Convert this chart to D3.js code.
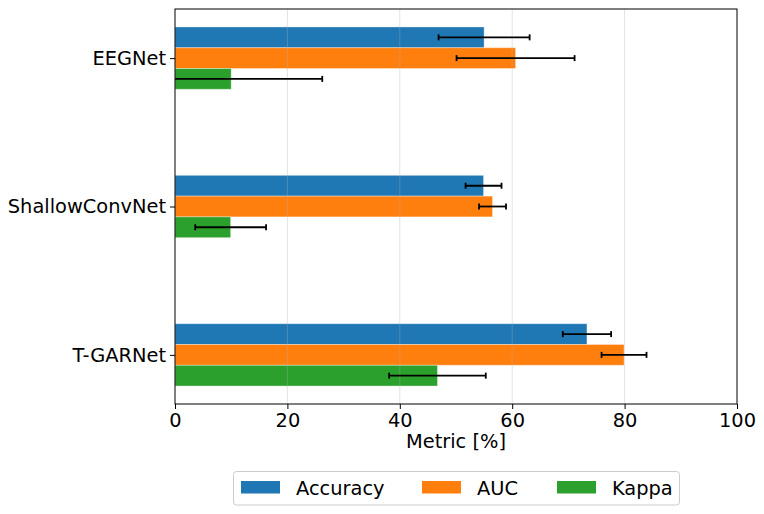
<!DOCTYPE html>
<html>
<head>
<meta charset="utf-8">
<script src="https://cdn.jsdelivr.net/npm/d3@7"></script>
<style>
html,body{margin:0;padding:0;background:#fff;}
svg{display:block;font-family:"DejaVu Sans",sans-serif;}
</style>
</head>
<body>
<svg id="chart" width="764" height="514"></svg>
<script>
// Data (bottom-to-top order as in the plot index)
const models = ["T-GARNet", "ShallowConvNet", "EEGNet"];
const metrics = ["Accuracy", "AUC", "Kappa"];
const colors = ["#1f77b4", "#ff7f0e", "#2ca02c"];
const accuracy = [73.3, 54.9, 55.0];
const accuracyErr = [4.3, 3.2, 8.1];
const auc = [79.9, 56.5, 60.6];
const aucErr = [4.0, 2.4, 10.5];
const kappa = [46.7, 9.9, 10.0];
const kappaErr = [8.6, 6.3, 16.2];
const xTicks = [0, 20, 40, 60, 80, 100];

const values = [accuracy, auc, kappa];
const errors = [accuracyErr, aucErr, kappaErr];
const FS = "19.4px";

const svg = d3.select("#chart");
const L = 175, R = 737, T = 9, B = 404;
const w = 0.14;            // bar height in category units
const offsets = [w, 0, -w]; // Accuracy on top, Kappa at bottom

const x = d3.scaleLinear().domain([0, 100]).range([L, R]);
const ext = [-1.5 * w, 2 + 1.5 * w];
const pad = (ext[1] - ext[0]) * 0.05;
const y = d3.scaleLinear().domain([ext[0] - pad, ext[1] + pad]).range([B, T]);
const bh = y(0) - y(w);

const plot = svg.append("g");
const defs = svg.append("defs");
defs.append("clipPath").attr("id", "clip").append("rect")
  .attr("x", L).attr("y", T).attr("width", R - L).attr("height", B - T);

// Bars
metrics.forEach((m, j) => {
  plot.append("g").selectAll("rect").data(models).join("rect")
    .attr("x", x(0))
    .attr("y", (d, i) => y(i + offsets[j] + w / 2))
    .attr("width", (d, i) => x(values[j][i]) - x(0))
    .attr("height", bh)
    .attr("fill", colors[j])
    .attr("stroke", "#ffffff")
    .attr("stroke-opacity", 0.35)
    .attr("stroke-width", 1);
});

// Grid (drawn above bars, translucent)
plot.append("g").selectAll("line").data(xTicks.slice(1, -1)).join("line")
  .attr("x1", d => x(d)).attr("x2", d => x(d))
  .attr("y1", T).attr("y2", B)
  .attr("stroke", "#b0b0b0").attr("stroke-opacity", 0.35).attr("stroke-width", 1);

// Error bars
const eg = plot.append("g").attr("clip-path", "url(#clip)");
metrics.forEach((m, j) => {
  models.forEach((d, i) => {
    const cy = y(i + offsets[j]);
    const lo = x(values[j][i] - errors[j][i]);
    const hi = x(values[j][i] + errors[j][i]);
    eg.append("line").attr("x1", lo).attr("x2", hi).attr("y1", cy).attr("y2", cy)
      .attr("stroke", "#000").attr("stroke-width", 1.8);
    [lo, hi].forEach(px => {
      eg.append("line").attr("x1", px).attr("x2", px).attr("y1", cy - 3).attr("y2", cy + 3)
        .attr("stroke", "#000").attr("stroke-width", 1.8);
    });
  });
});

// Spines
svg.append("rect").attr("x", L).attr("y", T).attr("width", R - L).attr("height", B - T)
  .attr("fill", "none").attr("stroke", "#000").attr("stroke-width", 1);

// X axis
const xAxis = svg.append("g").attr("transform", `translate(0,${B})`)
  .call(d3.axisBottom(x).tickValues(xTicks).tickSize(5).tickPadding(4).tickFormat(d3.format("d")));
xAxis.select(".domain").remove();
xAxis.attr("font-size", FS).attr("font-family", "DejaVu Sans");
xAxis.selectAll("text").attr("fill", "#000");
xAxis.selectAll("line").attr("stroke", "#000");

// Y axis
const yAxis = svg.append("g").attr("transform", `translate(${L},0)`)
  .call(d3.axisLeft(y).tickValues([0, 1, 2]).tickSize(5).tickPadding(4).tickFormat(d => models[d]));
yAxis.select(".domain").remove();
yAxis.attr("font-size", FS).attr("font-family", "DejaVu Sans");
yAxis.selectAll("text").attr("fill", "#000");
yAxis.selectAll("line").attr("stroke", "#000");

// X label
svg.append("text").attr("x", (L + R) / 2).attr("y", 448)
  .attr("text-anchor", "middle").attr("font-size", FS).attr("fill", "#000")
  .text("Metric [%]");

// Legend
const lg = svg.append("g");
lg.append("rect").attr("x", 233.5).attr("y", 471.5).attr("width", 446).attr("height", 33.5)
  .attr("rx", 3).attr("fill", "#fff").attr("fill-opacity", 0.8)
  .attr("stroke", "#cccccc").attr("stroke-width", 1);
const patchX = [241, 422, 557];
metrics.forEach((m, j) => {
  lg.append("rect").attr("x", patchX[j]).attr("y", 481).attr("width", 39).attr("height", 12.5)
    .attr("fill", colors[j]);
  lg.append("text").attr("x", patchX[j] + 55).attr("y", 494.5)
    .attr("font-size", FS).attr("fill", "#000").text(m);
});
</script>
</body>
</html>
